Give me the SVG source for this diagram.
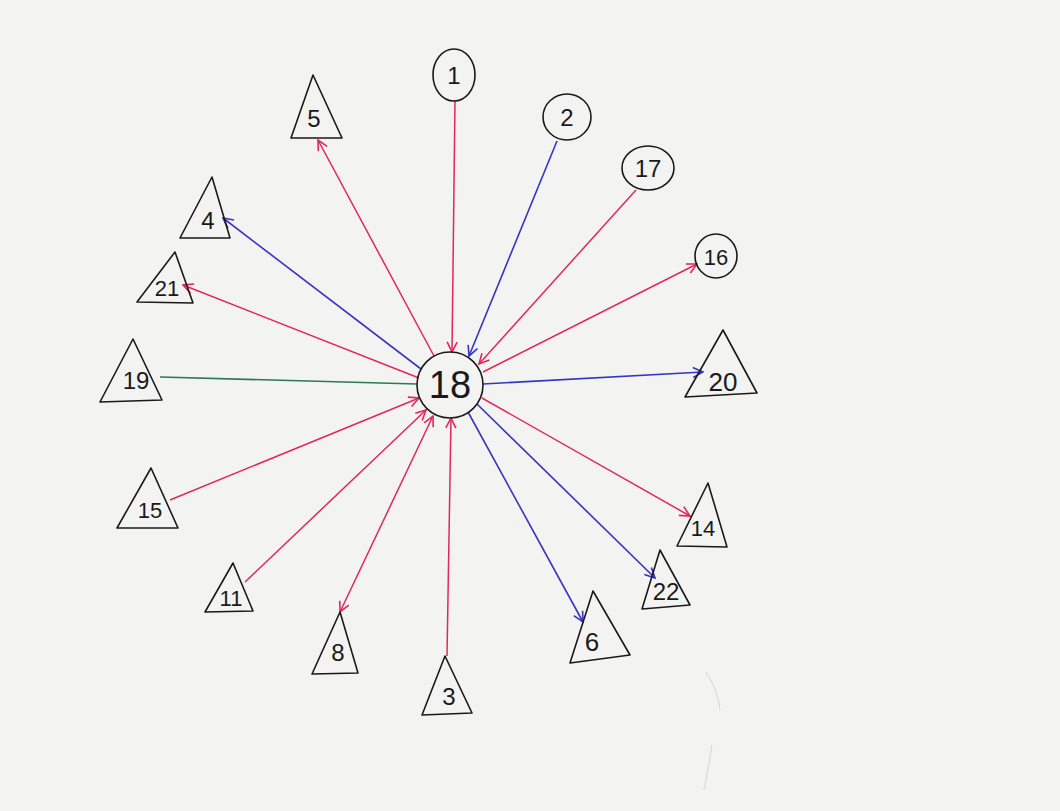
<svg xmlns="http://www.w3.org/2000/svg" width="1060" height="811" viewBox="0 0 1060 811">
<defs>
<style>
.nd{fill:none;stroke:#1a1a1a;stroke-width:1.6;stroke-linejoin:round}
.lb{font-family:"Liberation Sans",Arial,sans-serif;font-size:22px;fill:#1a1a1a;text-anchor:middle}
.r{stroke:#e0285a;stroke-width:1.5;fill:none}
.b{stroke:#3535c0;stroke-width:1.6;fill:none}
.g{stroke:#2a7a55;stroke-width:1.6;fill:none}
</style>
<marker id="ar" viewBox="0 0 12 12" refX="11" refY="6" markerWidth="12" markerHeight="12" markerUnits="userSpaceOnUse" orient="auto-start-reverse">
<path d="M1,1 L11,6 L1,11" fill="none" stroke="#e0285a" stroke-width="1.6"/>
</marker>
<marker id="ab" viewBox="0 0 12 12" refX="11" refY="6" markerWidth="12" markerHeight="12" markerUnits="userSpaceOnUse" orient="auto-start-reverse">
<path d="M1,1 L11,6 L1,11" fill="none" stroke="#3535c0" stroke-width="1.6"/>
</marker>
</defs>
<rect width="1060" height="811" fill="#f3f3f1"/>
<path d="M706,672 Q718,690 720,710 M712,745 Q708,770 704,790" stroke="#dadad8" stroke-width="1.2" fill="none"/>
<g id="connectors">
<line class="r" x1="455" y1="101" x2="452" y2="352" marker-end="url(#ar)"/>
<line class="r" x1="434" y1="356" x2="318" y2="140" marker-end="url(#ar)"/>
<line class="b" x1="557" y1="141" x2="469" y2="356" marker-end="url(#ab)"/>
<line class="r" x1="636" y1="190" x2="479" y2="364" marker-end="url(#ar)"/>
<line class="r" x1="483" y1="372" x2="697" y2="264" marker-end="url(#ar)"/>
<line class="b" x1="421" y1="369" x2="223" y2="218" marker-end="url(#ab)"/>
<line class="r" x1="419" y1="378" x2="183" y2="285" marker-end="url(#ar)"/>
<line class="g" x1="160" y1="377" x2="417" y2="384"/>
<line class="b" x1="483" y1="384" x2="703" y2="372" marker-end="url(#ab)"/>
<line class="r" x1="170" y1="500" x2="419" y2="398" marker-end="url(#ar)"/>
<line class="r" x1="245" y1="582" x2="426" y2="410" marker-end="url(#ar)"/>
<line class="r" x1="340" y1="612" x2="433" y2="416" marker-start="url(#ar)" marker-end="url(#ar)"/>
<line class="r" x1="447" y1="656" x2="451" y2="418" marker-end="url(#ar)"/>
<line class="b" x1="468" y1="412" x2="583" y2="622" marker-end="url(#ab)"/>
<line class="b" x1="477" y1="404" x2="655" y2="578" marker-end="url(#ab)"/>
<line class="r" x1="482" y1="398" x2="690" y2="516" marker-end="url(#ar)"/>
</g>
<g id="n18"><circle class="nd" cx="450" cy="385" r="33"/><text class="lb" x="450" y="398" style="font-size:38px">18</text></g>
<g id="n1"><ellipse class="nd" cx="454" cy="75" rx="21" ry="26"/><text class="lb" x="454" y="84" style="font-size:24px">1</text></g>
<g id="n2"><ellipse class="nd" cx="567" cy="117" rx="24" ry="23"/><text class="lb" x="567" y="126" style="font-size:24px">2</text></g>
<g id="n17"><ellipse class="nd" cx="648" cy="168" rx="26" ry="22"/><text class="lb" x="648" y="177" style="font-size:24px">17</text></g>
<g id="n16"><ellipse class="nd" cx="716" cy="256" rx="21" ry="22"/><text class="lb" x="716" y="265">16</text></g>
<g id="n5"><polygon class="nd" points="313,75 291,138 342,138"/><text class="lb" x="314" y="127" style="font-size:24px">5</text></g>
<g id="n4"><polygon class="nd" points="212,177 180,238 230,238"/><text class="lb" x="208" y="229" style="font-size:24px">4</text></g>
<g id="n21"><polygon class="nd" points="175,252 137,302 193,303"/><text class="lb" x="167" y="296">21</text></g>
<g id="n19"><polygon class="nd" points="133,339 100,402 162,400"/><text class="lb" x="136" y="389" style="font-size:24px">19</text></g>
<g id="n15"><polygon class="nd" points="151,468 117,528 178,528"/><text class="lb" x="150" y="518">15</text></g>
<g id="n20"><polygon class="nd" points="723,330 685,397 757,393"/><text class="lb" x="723" y="391" style="font-size:26px">20</text></g>
<g id="n11"><polygon class="nd" points="233,563 205,612 253,611"/><text class="lb" x="231" y="606">11</text></g>
<g id="n8"><polygon class="nd" points="340,612 312,674 358,673"/><text class="lb" x="338" y="661" style="font-size:24px">8</text></g>
<g id="n3"><polygon class="nd" points="445,656 422,715 472,713"/><text class="lb" x="449" y="705" style="font-size:24px">3</text></g>
<g id="n14"><polygon class="nd" points="708,483 677,546 727,547"/><text class="lb" x="703" y="536">14</text></g>
<g id="n22"><polygon class="nd" points="660,550 642,609 690,605"/><text class="lb" x="666" y="600" style="font-size:24px">22</text></g>
<g id="n6"><polygon class="nd" points="593,591 570,663 630,655"/><text class="lb" x="592" y="651" style="font-size:26px">6</text></g>
</svg>
